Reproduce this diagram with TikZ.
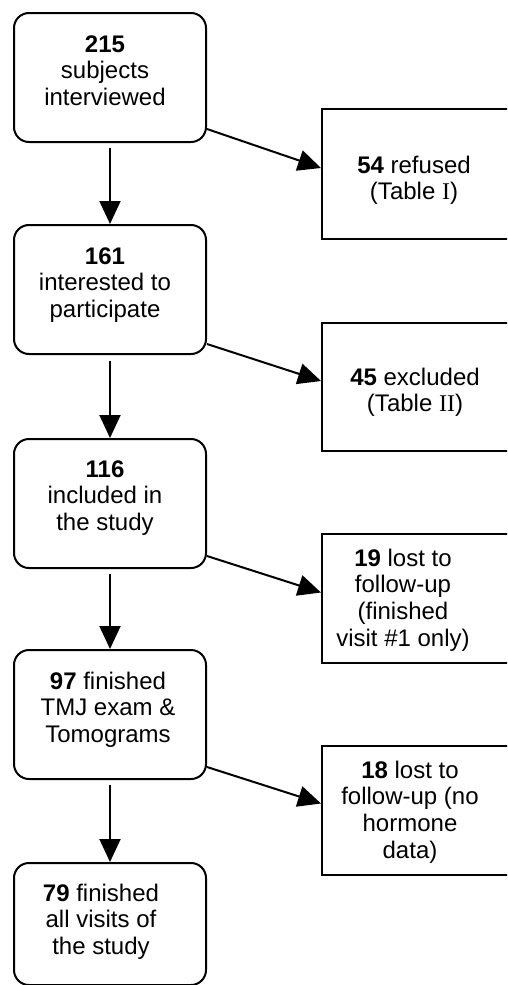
\documentclass[tikz,border=0pt]{standalone}
\usepackage{fontspec}
\setmainfont{Liberation Sans}
\newfontfamily\romanfont{Liberation Serif}
\usetikzlibrary{arrows.meta}
\newcommand\mylines[1]{\begin{tabular}[t]{@{}c@{}}#1\end{tabular}}
\begin{document}
\begin{tikzpicture}[x=1pt,y=-1pt,line width=2pt,
  rbox/.style={draw, rounded corners=15pt, minimum width=192pt, minimum height=129pt, inner sep=0pt, anchor=north west},
  sbox/.style={draw, minimum width=194pt, minimum height=129pt, inner sep=0pt, anchor=north west},
  txt/.style={anchor=base, inner sep=0pt, font=\fontsize{24}{26.8}\selectfont},
  arr/.style={-{Triangle[length=23pt,width=21pt]}}]
\useasboundingbox (0,0) rectangle (507,985);
\clip (0,0) rectangle (507,985);
% left column boxes
\node[rbox] (b1) at (13,12) {};
\node[rbox] (b2) at (13,224) {};
\node[rbox] (b3) at (13,438) {};
\node[rbox] (b4) at (13,649) {};
\node[rbox, minimum height=122pt] (b5) at (13,862) {};
% right column boxes
\node[sbox, minimum height=130pt] (r1) at (321,108) {};
\node[sbox, minimum height=128pt] (r2) at (321,322) {};
\node[sbox] (r3) at (321,533) {};
\node[sbox] (r4) at (321,745) {};
% texts
\node[txt] (t1) at (105,52) {\mylines{\textbf{215}\\subjects\\interviewed}};
\node[txt] (t2) at (105,264) {\mylines{\textbf{161}\\interested to\\participate}};
\node[txt] (t3) at (105,477) {\mylines{\textbf{116}\\included in\\the study}};
\node[txt] (t4) at (108,689) {\mylines{\textbf{97} finished\\TMJ exam \&\\Tomograms}};
\node[txt] (t5) at (101,901) {\mylines{\textbf{79} finished\\all visits of\\the study}};
\node[txt] (s1) at (414,173) {\mylines{\textbf{54} refused\\(Table {\romanfont I})}};
\node[txt] (s2) at (415,385) {\mylines{\textbf{45} excluded\\(Table {\romanfont II})}};
\node[txt] (s3) at (403,566) {\mylines{\textbf{19} lost to\\follow-up\\(finished\\visit \#1 only)}};
\node[txt] (s4) at (410,778) {\mylines{\textbf{18} lost to\\follow-up (no\\hormone\\data)}};
% vertical arrows
\draw[arr, shorten <=5pt] (b1) -- (b2);
\draw[arr, shorten <=6pt] (b2) -- (b3);
\draw[arr, shorten <=5pt] (b3) -- (b4);
\draw[arr, shorten <=5pt] (b4) -- (b5);
% diagonal arrows
\draw[arr] ([yshift=14pt]b1.south east) -- ([yshift=6pt]r1.west);
\draw[arr] ([yshift=11pt]b2.south east) -- ([yshift=6pt]r2.west);
\draw[arr] ([yshift=13pt]b3.south east) -- ([yshift=6pt]r3.west);
\draw[arr] ([yshift=13pt]b4.south east) -- ([yshift=7pt]r4.west);
\end{tikzpicture}
\end{document}
